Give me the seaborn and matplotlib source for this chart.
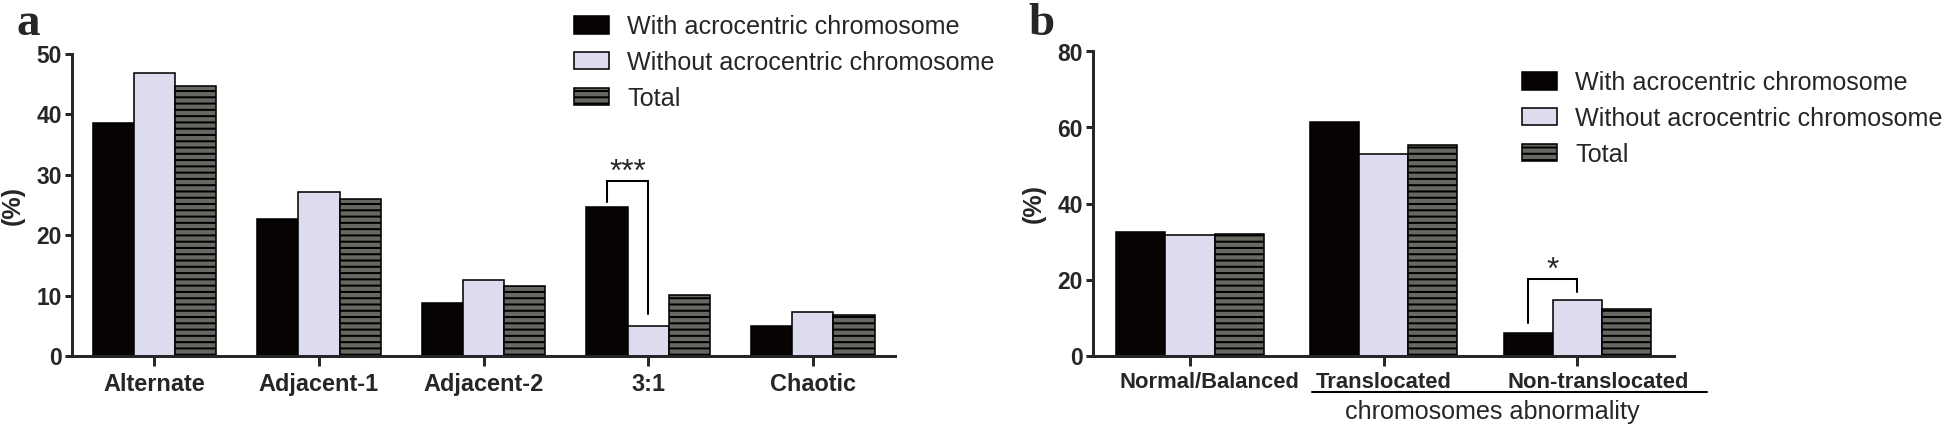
import matplotlib
matplotlib.use('Agg')
from matplotlib import pyplot as plt
import matplotlib.transforms as mtransforms
import pandas as pd
import seaborn as sns

# ---- data ----
groups = ['With acrocentric chromosome', 'Without acrocentric chromosome', 'Total']
groupColors = ['#070303', '#dcdcee', '#686862']

patternsA = ['Alternate', 'Adjacent-1', 'Adjacent-2', '3:1', 'Chaotic']
withA = [38.5, 22.7, 8.8, 24.7, 4.9]
withoutA = [46.8, 27.2, 12.5, 4.9, 7.3]
totalA = [44.6, 26.0, 11.5, 10.1, 6.8]

statusB = ['Normal/Balanced', 'Translocated', 'Non-translocated']
withB = [32.6, 61.4, 5.9]
withoutB = [31.8, 53.1, 14.7]
totalB = [32.1, 55.3, 12.3]

# significance brackets: (category, top, left leg end, right leg end, label)
sigA = ('3:1', 29.0, 25.5, 7.0, '***')
sigB = ('Non-translocated', 20.2, 8.7, 16.7, '*')

DPI = 113
W, H = 1946, 426


def longFrame(cats, w, wo, t):
    rows = []
    for vals, g in zip([w, wo, t], groups):
        for c, v in zip(cats, vals):
            rows.append({'cat': c, 'group': g, 'pct': v})
    return pd.DataFrame(rows)


sns.set_style('ticks')
plt.rcParams['font.family'] = ['Liberation Sans', 'DejaVu Sans']
plt.rcParams['hatch.linewidth'] = 1.3
plt.rcParams['hatch.color'] = 'black'

fig = plt.figure(figsize=((W + 0.3) / DPI, (H + 0.3) / DPI), dpi=DPI)
axA = fig.add_axes([72 / W, 1 - 356 / H, (895 - 72) / W, (356 - 54) / H])
axB = fig.add_axes([1093 / W, 1 - 355.7 / H, (1674 - 1093) / W, (355.7 - 51.7) / H])


def drawPanel(ax, cats, w, wo, t, width, ymax, ystep, xsize):
    df = longFrame(cats, w, wo, t)
    sns.barplot(data=df, x='cat', y='pct', hue='group', hue_order=groups, order=cats,
                palette=groupColors, saturation=1, width=width, edgecolor='black',
                linewidth=1.0, ax=ax, legend=False, errorbar=None)
    for bar in ax.containers[2]:
        bar.set_hatch('---')
    ax.set_xlim(-0.5, len(cats) - 0.5)
    ax.set_ylim(0, ymax)
    ax.set_yticks(range(0, ymax + 1, ystep))
    ax.set_xlabel('')
    ax.set_ylabel('(%)', fontsize=16, fontweight='bold')
    sns.despine(ax=ax)
    for s in ['left', 'bottom']:
        ax.spines[s].set_linewidth(1.9)
    ax.tick_params(axis='x', length=6.5, width=1.9, pad=4, labelsize=xsize)
    ax.tick_params(axis='y', length=4.5, width=1.9, pad=2, labelsize=14.5)
    for lbl in ax.get_xticklabels() + ax.get_yticklabels():
        lbl.set_fontweight('bold')


def drawBracket(ax, cats, sig, width, fs, ytxt):
    cat, top, leftEnd, rightEnd, txt = sig
    i = cats.index(cat)
    barW = width / 3
    x0 = i - barW
    x1 = i
    ax.plot([x0, x0, x1, x1], [leftEnd, top, top, rightEnd], color='black', lw=1.3,
            solid_joinstyle='miter')
    ax.text((x0 + x1) / 2, ytxt, txt, ha='center', va='center', fontsize=fs)


drawPanel(axA, patternsA, withA, withoutA, totalA, 0.75, 50, 10, 15)
drawPanel(axB, statusB, withB, withoutB, totalB, 0.76, 80, 20, 14)

drawBracket(axA, patternsA, sigA, 0.75, 20, 30.3)
drawBracket(axB, statusB, sigB, 0.76, 20, 22.3)

axA.yaxis.set_label_coords(-0.057, 0.5)
axB.yaxis.set_label_coords(-0.082, 0.5)

# shift first/last x labels of panel b like the original
for lbl, dx in zip(axB.get_xticklabels(), [19, 0, 21]):
    lbl.set_transform(lbl.get_transform() + mtransforms.ScaledTranslation(dx / DPI, 0, fig.dpi_scale_trans))

# underline + group caption under panel b
trans = mtransforms.blended_transform_factory(axB.transData, axB.transAxes)
axB.plot([0.629, 2.67], [-0.121, -0.121], color='black', lw=1.3, transform=trans, clip_on=False)
axB.text(1.56, -0.184, 'chromosomes abnormality', transform=trans, ha='center', va='center',
         fontsize=16)

# legends
legKw = dict(loc='upper left', bbox_transform=fig.transFigure, frameon=False, fontsize=16,
             borderpad=0, borderaxespad=0, handlelength=1.4, handleheight=0.68,
             handletextpad=0.72, labelspacing=0.47)
axA.legend(axA.containers, groups, bbox_to_anchor=(574 / W, 1 - 15 / H), **legKw)
axB.legend(axB.containers, groups, bbox_to_anchor=(1522 / W, 1 - 71 / H), **legKw)

fig.text(16 / W, 1 - 35 / H, 'a', fontsize=30, fontweight='bold', family='Liberation Serif',
         va='baseline')
fig.text(1028 / W, 1 - 35 / H, 'b', fontsize=30, fontweight='bold', family='Liberation Serif',
         va='baseline')

fig.savefig('out.png', dpi=DPI)
